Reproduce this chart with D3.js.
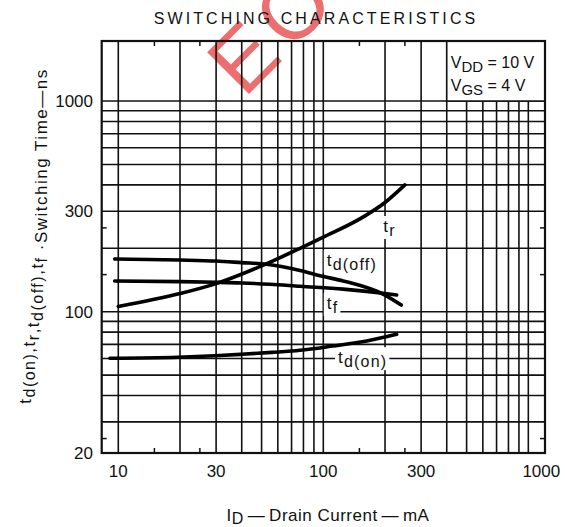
<!DOCTYPE html>
<html><head><meta charset="utf-8">
<script src="https://cdn.jsdelivr.net/npm/d3@7"></script>
<style>
html,body{margin:0;padding:0;background:#fff;}
text{font-family:"Liberation Sans",Arial,sans-serif;fill:#111;}
</style></head>
<body><svg id="chart" width="565" height="527"></svg>
<script>
// ---- data ----
const xTickValues = [10, 30, 100, 300, 1000];
const xTickLabels = ["10", "30", "100", "300", "1000"];
const yTickValues = [20, 100, 300, 1000];
const yTickLabels = ["20", "100", "300", "1000"];
const xGridValues = [10,20,30,40,50,60,70,80,90,100,200,300,400,500,600,700,800,900,1000];
const yGridValues = [30,40,50,60,70,80,90,100,200,300,400,500,600,700,800,900,1000];
const xMinorTicks = [15, 25, 150, 250];
const yMinorTicks = [25, 150, 250];

const trCurrent = [10, 20, 30, 50, 77, 100, 150, 200, 250];
const trTime    = [106, 122, 136, 165, 200, 226, 275, 330, 400];
const tdoffCurrent = [9.6, 20, 30, 40, 53, 77, 100, 125, 200, 240];
const tdoffTime    = [178, 176, 174, 171, 168, 157, 147, 140, 120, 107.6];
const tfCurrent = [9.6, 20, 30, 40, 55, 77, 125, 200, 228];
const tfTime    = [140, 139, 138, 137, 135, 132, 128, 122, 120];
const tdonCurrent = [9.1, 19.5, 29.6, 40, 56, 77, 111, 163, 228];
const tdonTime    = [60.1, 60.8, 61.8, 62.8, 64.1, 65.6, 68.7, 72.6, 78.1];

// ---- chart ----
const svg = d3.select("#chart");
const L = 101.7, R = 545, T = 41, B = 453;
const x = d3.scaleLog().domain([8.3, 1206]).range([L, R]);
const y = d3.scaleLog().domain([21.35, 1928]).range([B, T]).clamp(true);

// watermark
svg.append("text").attr("transform", "translate(244,99) rotate(-45)")
  .style("font-size", "86px").style("letter-spacing", "8px")
  .style("fill", "#ec5f5f").style("opacity", 0.9)
  .text("EOL");

const g = svg.append("g");
// grid
g.selectAll("line.hg").data(yGridValues).join("line")
  .attr("x1", L).attr("x2", R).attr("y1", d => y(d)).attr("y2", d => y(d))
  .attr("stroke", "#111").attr("stroke-width", 1.6);
g.selectAll("line.vg").data(xGridValues).join("line")
  .attr("x1", d => x(d)).attr("x2", d => x(d)).attr("y1", T).attr("y2", B)
  .attr("stroke", "#111").attr("stroke-width", 1.6);
// minor ticks
g.selectAll("line.mxb").data(xMinorTicks).join("line")
  .attr("x1", d => x(d)).attr("x2", d => x(d)).attr("y1", B).attr("y2", B - 5)
  .attr("stroke", "#111").attr("stroke-width", 1.5);
g.selectAll("line.mxt").data(xMinorTicks).join("line")
  .attr("x1", d => x(d)).attr("x2", d => x(d)).attr("y1", T).attr("y2", T + 5)
  .attr("stroke", "#111").attr("stroke-width", 1.5);
g.selectAll("line.myl").data(yMinorTicks).join("line")
  .attr("x1", L).attr("x2", L + 5).attr("y1", d => y(d)).attr("y2", d => y(d))
  .attr("stroke", "#111").attr("stroke-width", 1.5);
g.selectAll("line.myr").data(yMinorTicks).join("line")
  .attr("x1", R).attr("x2", R - 5).attr("y1", d => y(d)).attr("y2", d => y(d))
  .attr("stroke", "#111").attr("stroke-width", 1.5);

// condition box
const bx = x(400);
g.append("rect").attr("x", bx).attr("y", T).attr("width", R - bx).attr("height", y(1000) - T)
  .attr("fill", "#fff").attr("stroke", "#111").attr("stroke-width", 1.6);
const cond = g.append("g").style("font-size", "16px");
const c1 = cond.append("text").attr("x", bx + 4).attr("y", 68);
c1.append("tspan").text("V");
c1.append("tspan").attr("dy", 4).style("font-size", "15px").text("DD");
c1.append("tspan").attr("dy", -4).text(" = 10 V");
const c2 = cond.append("text").attr("x", bx + 4).attr("y", 91);
c2.append("tspan").text("V");
c2.append("tspan").attr("dy", 4).style("font-size", "15px").text("GS");
c2.append("tspan").attr("dy", -4).text(" = 4 V");

// border
g.append("rect").attr("x", L).attr("y", T).attr("width", R - L).attr("height", B - T)
  .attr("fill", "none").attr("stroke", "#111").attr("stroke-width", 2.2);

// curve labels (white background)
const labels = [
  {I: 196, t: 239, main: "t", sub: "r"},
  {I: 104, t: 164.7, main: "t", sub: "d(off)"},
  {I: 104, t: 103, main: "t", sub: "f"},
  {I: 118, t: 57, main: "t", sub: "d(on)"}
];
labels.forEach(lb => {
  const tg = g.append("g");
  const tx = tg.append("text").attr("x", x(lb.I)).attr("y", y(lb.t)).style("font-size", "17px").style("letter-spacing", "1.2px");
  tx.append("tspan").text(lb.main);
  tx.append("tspan").attr("dy", 4).style("font-size", "16px").text(lb.sub);
  const bb = tx.node().getBBox();
  tg.insert("rect", "text").attr("x", bb.x - 3).attr("y", bb.y - 1).attr("width", bb.width + 5).attr("height", bb.height + 1).attr("fill", "#fff");
});

// curves
const line = d3.line().x(d => x(d[0])).y(d => y(d[1])).curve(d3.curveMonotoneX);
const series = [
  d3.zip(trCurrent, trTime),
  d3.zip(tdoffCurrent, tdoffTime),
  d3.zip(tfCurrent, tfTime),
  d3.zip(tdonCurrent, tdonTime)
];
g.selectAll("path.curve").data(series).join("path")
  .attr("d", line).attr("fill", "none").attr("stroke", "#000").attr("stroke-width", 3.6)
  .attr("stroke-linecap", "round");

// tick labels
g.selectAll("text.xt").data(xTickValues).join("text")
  .attr("x", (d, i) => x(d) + (i === xTickValues.length - 1 ? 13 : 0)).attr("y", 477)
  .attr("text-anchor", "middle").style("font-size", "17px")
  .text((d, i) => xTickLabels[i]);
g.selectAll("text.yt").data(yTickValues).join("text")
  .attr("x", 93).attr("y", d => y(d) + 6)
  .attr("text-anchor", "end").style("font-size", "17px")
  .text((d, i) => yTickLabels[i]);

// title
svg.append("text").attr("x", 316).attr("y", 24).attr("text-anchor", "middle")
  .style("font-size", "16px").style("letter-spacing", "3.1px").text("SWITCHING CHARACTERISTICS");

// x axis title
const xt = svg.append("text").attr("x", 328).attr("y", 521).attr("text-anchor", "middle")
  .style("font-size", "17px").style("letter-spacing", "0.5px");
xt.append("tspan").text("I");
xt.append("tspan").attr("dy", 3).style("font-size", "16px").text("D");
xt.append("tspan").attr("dy", -3).text("\u2009\u2014\u2009Drain Current\u2009\u2014\u2009mA");

// y axis title
const yt = svg.append("text").attr("transform", "translate(31,236) rotate(-90)")
  .attr("text-anchor", "middle").style("font-size", "17px").style("letter-spacing", "1.5px");
const parts = [["t","d(on)"],[",t","r"],[",t","d(off)"],[",t","f"]];
parts.forEach(p => {
  yt.append("tspan").text(p[0]);
  yt.append("tspan").attr("dy", 4).style("font-size", "16px").text(p[1]);
  yt.append("tspan").attr("dy", -4).text("");
});
yt.append("tspan").text("  \u00b7Switching Time\u2014ns");
</script></body></html>
